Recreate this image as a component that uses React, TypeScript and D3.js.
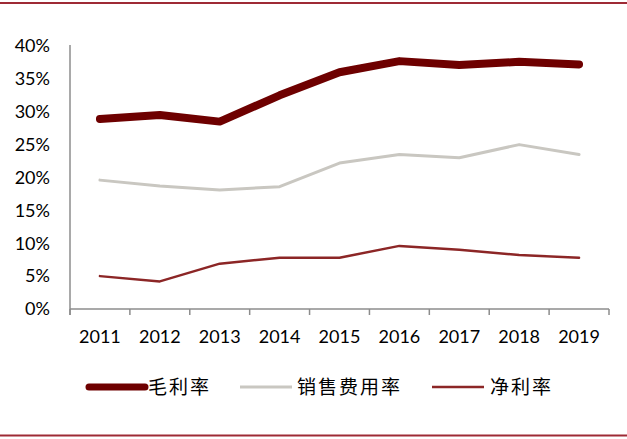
import React from 'react';
import * as d3 from 'd3';

const years = ['2011', '2012', '2013', '2014', '2015', '2016', '2017', '2018', '2019'];
const grossMargin = [28.9, 29.5, 28.5, 32.5, 36.0, 37.7, 37.1, 37.6, 37.2];
const sellingExpense = [19.6, 18.7, 18.1, 18.6, 22.2, 23.5, 23.0, 25.0, 23.5];
const netMargin = [5.0, 4.2, 6.9, 7.8, 7.8, 9.6, 9.0, 8.2, 7.8];
const yTicks = [0, 5, 10, 15, 20, 25, 30, 35, 40];

const seriesNames = ['毛利率', '销售费用率', '净利率'];

const W = 627;
const H = 439;
const FONT = 'Lato, "Liberation Sans", sans-serif';
const CJK = '"Noto Sans CJK SC", sans-serif';

const series = [
  { name: seriesNames[0], values: grossMargin, color: '#6e0000', width: 8 },
  { name: seriesNames[1], values: sellingExpense, color: '#c9c7c1', width: 3 },
  { name: seriesNames[2], values: netMargin, color: '#8c2626', width: 2.5 },
];

export default function App() {
  const x = d3.scaleBand<string>().domain(years).range([70, 609]);
  const y = d3.scaleLinear().domain([0, 40]).range([309, 46]);
  const cx = (yr: string) => (x(yr) as number) + x.bandwidth() / 2;

  const line = d3.line<number>()
    .x((_, i) => cx(years[i]))
    .y(d => y(d));

  const boundaries = [...years.map(yr => x(yr) as number), x.range()[1]];

  const legend = [
    { x: 89, len: 56, tx: 148 },
    { x: 240, len: 52, tx: 297 },
    { x: 432, len: 52, tx: 490 },
  ];
  const legendY = 387;

  return (
    <div style={{ position: 'absolute', left: 0, top: 0 }}>
      <svg width={W} height={H} style={{ display: 'block', background: '#fff' }}>
        {/* frame lines */}
        <line x1={0} x2={W} y1={3} y2={3} stroke="#9e2a35" strokeWidth={2} />
        <line x1={0} x2={W} y1={435.5} y2={435.5} stroke="#9e2a35" strokeWidth={2} />

        {/* y axis */}
        <line x1={70} x2={70} y1={45} y2={315} stroke="#8c8c8c" strokeWidth={1.5} />
        {yTicks.map(t => (
          <text key={t} x={50} y={y(t)} dy="0.35em" textAnchor="end"
            fontFamily={FONT} fontSize={18} fill="#000">{t}%</text>
        ))}

        {/* x axis */}
        <line x1={70} x2={609} y1={309} y2={309} stroke="#8c8c8c" strokeWidth={1.5} />
        {boundaries.map((b, i) => (
          <line key={i} x1={b} x2={b} y1={309} y2={315} stroke="#8c8c8c" strokeWidth={1.5} />
        ))}
        {years.map(yr => (
          <text key={yr} x={cx(yr)} y={337} dy="0.35em"
            textAnchor="middle" fontFamily={FONT} fontSize={18} fill="#000">{yr}</text>
        ))}

        {/* series */}
        {series.slice().reverse().map(s => (
          <path key={s.name} d={line(s.values) || ''} fill="none" stroke={s.color}
            strokeWidth={s.width} strokeLinecap="round" strokeLinejoin="round" />
        ))}

        {/* legend */}
        {series.map((s, i) => (
          <g key={s.name}>
            <line x1={legend[i].x} x2={legend[i].x + legend[i].len} y1={legendY} y2={legendY}
              stroke={s.color} strokeWidth={i === 0 ? 7 : s.width} strokeLinecap={i === 0 ? 'round' : 'butt'} />
            <text x={legend[i].tx} y={legendY} dy="0.35em" fontFamily={CJK} fontSize={19}
              letterSpacing={2} fill="#000">{s.name}</text>
          </g>
        ))}
      </svg>
    </div>
  );
}
